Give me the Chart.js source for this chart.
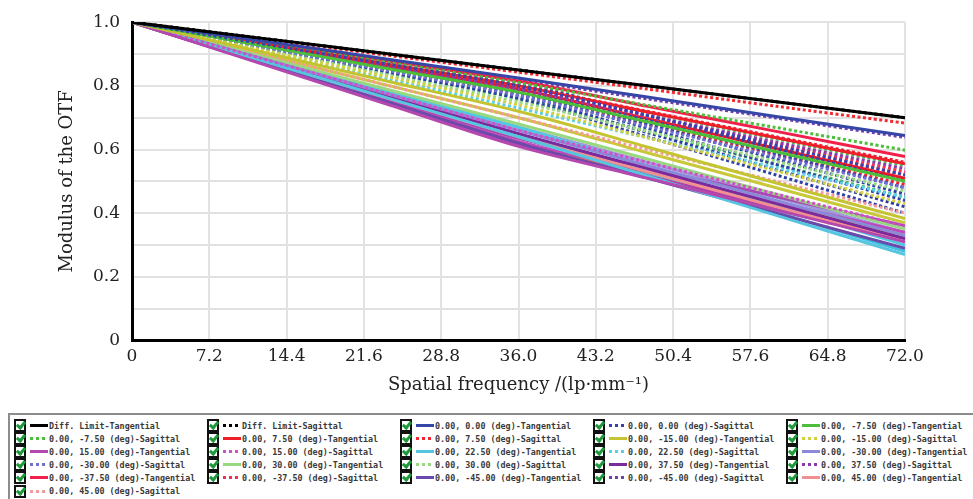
<!DOCTYPE html>
<html>
<head>
<meta charset="utf-8">
<script src="https://cdn.jsdelivr.net/npm/chart.js@4.4.1/dist/chart.umd.min.js"></script>
<style>
html,body{margin:0;padding:0;background:#fff}
body{width:973px;height:499px;overflow:hidden;position:relative}
#wrap{position:absolute;left:0;top:0;width:973px;height:405px}
#legend{position:absolute;left:8px;top:413px;width:975px;height:100px;border:2px solid #8c8c8c;box-sizing:border-box}
.item{position:absolute;height:13px;display:flex;align-items:center;font:bold 8.4px 'DejaVu Sans Mono',monospace;color:#3a3a3a;white-space:nowrap}
.cb{width:8px;height:9px;border:2px solid #111;background:#fff;position:relative;margin-right:4px;flex:none}
.cb::after{content:'';position:absolute;left:2px;top:-1px;width:3px;height:6px;border:solid #1e9a3c;border-width:0 3px 3px 0;transform:rotate(40deg)}
.ln{width:18px;height:3px;margin-right:1px;flex:none}
</style>
</head>
<body>
<div id="wrap"><canvas id="chart" width="973" height="405"></canvas></div>
<div id="legend"></div>
<script>
// frecuencias (lp/mm) donde se leen las curvas
const freqs=[0,12,24,36,48,60,72]
const xTicks=[0,7.2,14.4,21.6,28.8,36,43.2,50.4,57.6,64.8,72]
const yTicks=[0,0.1,0.2,0.3,0.4,0.5,0.6,0.7,0.8,0.9,1]
const yTickLabels=['0','','0.2','','0.4','','0.6','','0.8','','1.0']

// curvas de la leyenda
const diffT=[1,.95,.90,.85,.80,.75,.70]
const diffS=[1,.95,.90,.85,.80,.75,.70]
const f0T=[1,.942,.883,.825,.765,.704,.644]
const f0S=[1,.933,.867,.80,.707,.613,.52]
const fm75T=[1,.927,.853,.78,.687,.593,.50]
const fm75S=[1,.937,.873,.81,.739,.669,.598]
const f75T=[1,.933,.867,.80,.718,.637,.555]
const f75S=[1,.948,.895,.843,.790,.736,.683]
const fm15T=[1,.907,.813,.72,.608,.495,.383]
const fm15S=[1,.913,.827,.74,.637,.533,.43]
const f15T=[1,.87,.74,.61,.51,.41,.31]
const f15S=[1,.887,.773,.66,.56,.46,.36]
const f225T=[1,.88,.76,.64,.517,.393,.27]
const f225S=[1,.91,.82,.73,.637,.543,.45]
const fm30T=[1,.887,.773,.66,.55,.44,.33]
const fm30S=[1,.923,.847,.77,.673,.577,.48]
const f30T=[1,.893,.787,.68,.57,.46,.35]
const f30S=[1,.917,.833,.75,.657,.563,.47]
const f375T=[1,.883,.767,.65,.54,.43,.32]
const f375S=[1,.93,.86,.79,.707,.623,.54]
const fm375T=[1,.938,.877,.815,.736,.657,.578]
const fm375S=[1,.93,.86,.79,.703,.617,.53]
const fm45T=[1,.873,.747,.62,.51,.40,.29]
const fm45S=[1,.94,.88,.82,.759,.699,.638]
const f45T=[1,.88,.76,.64,.53,.42,.31]
const f45S=[1,.90,.80,.70,.60,.50,.40]

// trazas sin leyenda que rellenan la banda
const extraB1=[1,.937,.873,.81,.707,.603,.50]
const extraB2=[1,.93,.86,.79,.68,.57,.46]
const extraB3=[1,.927,.853,.78,.667,.553,.44]
const extraB4=[1,.923,.847,.77,.653,.537,.42]
const extraB5=[1,.933,.867,.80,.693,.587,.48]
const extraB6=[1,.92,.84,.76,.64,.52,.40]
const extraR1=[1,.933,.867,.80,.72,.64,.56]
const extraR2=[1,.928,.857,.785,.697,.608,.52]
const extraR3=[1,.925,.85,.775,.68,.585,.49]
const extraR4=[1,.93,.86,.79,.697,.603,.51]
const extraG1=[1,.933,.867,.80,.717,.633,.55]
const extraG2=[1,.92,.84,.76,.657,.553,.45]
const extraM1=[1,.872,.743,.615,.517,.418,.32]
const extraM2=[1,.875,.75,.625,.53,.435,.34]
const extraM3=[1,.878,.757,.635,.543,.452,.36]
const extraC1=[1,.883,.767,.65,.527,.403,.28]
const extraC2=[1,.89,.78,.67,.547,.423,.30]
const extraO1=[1,.873,.747,.62,.523,.427,.33]
const extraP1=[1,.89,.78,.67,.56,.45,.34]
const extraY1=[1,.90,.80,.70,.59,.48,.37]

const series=[
  {label:'Diff. Limit-Tangential',data:diffT,color:'#000000',dash:false},
  {label:'Diff. Limit-Sagittal',data:diffS,color:'#000000',dash:true},
  {label:'0.00, 0.00 (deg)-Tangential',data:f0T,color:'#3646a6',dash:false},
  {label:'0.00, 0.00 (deg)-Sagittal',data:f0S,color:'#3a40b0',dash:true},
  {label:'0.00, -7.50 (deg)-Tangential',data:fm75T,color:'#4cbf3a',dash:false},
  {label:'0.00, -7.50 (deg)-Sagittal',data:fm75S,color:'#4cbf3a',dash:true},
  {label:'0.00, 7.50 (deg)-Tangential',data:f75T,color:'#ee1f2a',dash:false},
  {label:'0.00, 7.50 (deg)-Sagittal',data:f75S,color:'#f02a30',dash:true},
  {label:'0.00, -15.00 (deg)-Tangential',data:fm15T,color:'#c4c430',dash:false},
  {label:'0.00, -15.00 (deg)-Sagittal',data:fm15S,color:'#d0d040',dash:true},
  {label:'0.00, 15.00 (deg)-Tangential',data:f15T,color:'#b448ae',dash:false},
  {label:'0.00, 15.00 (deg)-Sagittal',data:f15S,color:'#d050c8',dash:true},
  {label:'0.00, 22.50 (deg)-Tangential',data:f225T,color:'#56c6e0',dash:false},
  {label:'0.00, 22.50 (deg)-Sagittal',data:f225S,color:'#5ad0e8',dash:true},
  {label:'0.00, -30.00 (deg)-Tangential',data:fm30T,color:'#8a8ad8',dash:false},
  {label:'0.00, -30.00 (deg)-Sagittal',data:fm30S,color:'#7070d0',dash:true},
  {label:'0.00, 30.00 (deg)-Tangential',data:f30T,color:'#98d880',dash:false},
  {label:'0.00, 30.00 (deg)-Sagittal',data:f30S,color:'#98d880',dash:true},
  {label:'0.00, 37.50 (deg)-Tangential',data:f375T,color:'#7a2a9a',dash:false},
  {label:'0.00, 37.50 (deg)-Sagittal',data:f375S,color:'#8a3aaa',dash:true},
  {label:'0.00, -37.50 (deg)-Tangential',data:fm375T,color:'#f0204a',dash:false},
  {label:'0.00, -37.50 (deg)-Sagittal',data:fm375S,color:'#f03050',dash:true},
  {label:'0.00, -45.00 (deg)-Tangential',data:fm45T,color:'#6a4aaa',dash:false},
  {label:'0.00, -45.00 (deg)-Sagittal',data:fm45S,color:'#7040b0',dash:true},
  {label:'0.00, 45.00 (deg)-Tangential',data:f45T,color:'#f09090',dash:false},
  {label:'0.00, 45.00 (deg)-Sagittal',data:f45S,color:'#f49a9a',dash:true}
]

const extras=[
  {data:extraB1,color:'#3040a8',dash:true},{data:extraB2,color:'#3040a8',dash:true},
  {data:extraB3,color:'#3040a8',dash:true},{data:extraB4,color:'#2c3ca4',dash:true},
  {data:extraB5,color:'#3646b0',dash:true},{data:extraB6,color:'#3040a8',dash:true},
  {data:extraR1,color:'#ee2030',dash:true},{data:extraR2,color:'#ee2030',dash:true},
  {data:extraR3,color:'#ee2030',dash:true},{data:extraR4,color:'#e81828',dash:false},
  {data:extraG1,color:'#40b850',dash:true},{data:extraG2,color:'#40b850',dash:true},
  {data:extraM1,color:'#b040a8',dash:false},{data:extraM2,color:'#c048b8',dash:false},
  {data:extraM3,color:'#a848b0',dash:false},{data:extraC1,color:'#40c0e0',dash:false},
  {data:extraC2,color:'#50c8e4',dash:false},{data:extraO1,color:'#e09030',dash:false},
  {data:extraP1,color:'#a098dc',dash:false},{data:extraY1,color:'#c8c838',dash:false}
]

const toPoints=vals=>vals.map((v,i)=>({x:freqs[i],y:v}))

const datasets=[...series,...extras].map(s=>({
  label:s.label||'',
  data:toPoints(s.data),
  borderColor:s.color,
  borderWidth:3,
  borderDash:s.dash?[3,2.5]:[],
  fill:false
}))

new Chart('chart',{
  type:'line',
  data:{datasets},
  options:{
    responsive:false,
    maintainAspectRatio:false,
    animation:false,
    layout:{padding:{left:0,top:14,right:68,bottom:0}},
    plugins:{legend:{display:false},tooltip:{enabled:false}},
    elements:{point:{radius:0},line:{tension:0.3,borderCapStyle:'butt'}},
    scales:{
      x:{
        type:'linear',min:0,max:72,
        afterBuildTicks:s=>{s.ticks=xTicks.map(v=>({value:v}))},
        afterFit:s=>{s.height=64.5},
        grid:{color:'#e2e2e2',lineWidth:2,drawTicks:false},
        border:{color:'#000',width:3},
        ticks:{padding:6,color:'#222',autoSkip:false,maxRotation:0,
          font:{family:'DejaVu Serif',size:17},
          callback:v=>v===0?'0':v.toFixed(1)},
        title:{display:true,text:'Spatial frequency /(lp·mm⁻¹)',color:'#222',
          font:{family:'DejaVu Serif',size:18},padding:{top:0,bottom:9}}
      },
      y:{
        min:0,max:1,
        afterBuildTicks:s=>{s.ticks=yTicks.map(v=>({value:v}))},
        afterFit:s=>{s.width=132},
        grid:{color:'#e2e2e2',lineWidth:2,drawTicks:false},
        border:{color:'#000',width:3},
        ticks:{padding:12,color:'#222',autoSkip:false,
          font:{family:'DejaVu Serif',size:17},
          callback:v=>yTickLabels[yTicks.findIndex(t=>Math.abs(t-v)<1e-6)]},
        title:{display:true,text:'Modulus of the OTF',color:'#222',
          font:{family:'DejaVu Serif',size:18},padding:{top:57,bottom:0}}
      }
    }
  }
})

// leyenda con casillas, igual que el original
const legend=document.getElementById('legend')
series.forEach((s,i)=>{
  const col=i%5, row=Math.floor(i/5)
  const it=document.createElement('div')
  it.className='item'
  it.style.left=(4+col*193)+'px'
  it.style.top=(4+row*13.1)+'px'
  const bg=s.dash
    ?`repeating-linear-gradient(90deg,${s.color} 0 3px,transparent 3px 6px)`
    :s.color
  it.innerHTML=`<span class="cb"></span><span class="ln" style="background:${bg}"></span><span>${s.label}</span>`
  legend.appendChild(it)
})
</script>
</body>
</html>
